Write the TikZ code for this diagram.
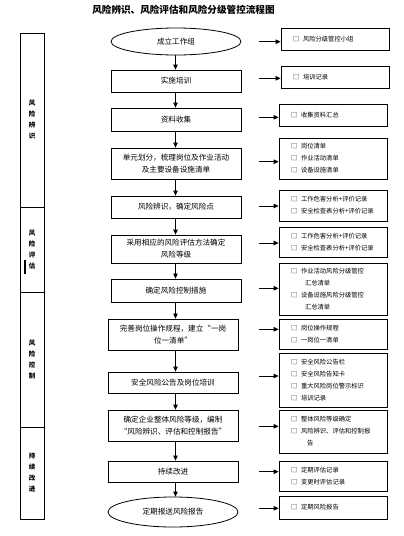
\documentclass[tikz,border=0pt]{standalone}
\usepackage{fontspec}
\setmainfont{Noto Sans CJK SC}
\usetikzlibrary{shapes.geometric,arrows.meta}
\newcommand\cbx{\makebox[10pt][l]{□}}
\begin{document}
\begin{tikzpicture}[x=1pt,y=-1pt,
  box/.style={draw,line width=0.8pt,minimum width=130pt,inner sep=0pt,align=center,font=\fontsize{7.6}{12}\selectfont},
  ell/.style={box,ellipse},
  rbox/.style={draw,line width=0.8pt,text width=84pt,inner xsep=12pt,inner ysep=0pt,align=left,font=\fontsize{6.3}{12}\selectfont},
  lbox/.style={draw,line width=0.8pt,minimum width=24pt,inner sep=0pt,align=center,font=\bfseries\fontsize{6.5}{11}\selectfont},
  arr/.style={line width=0.8pt,-{Triangle[length=5pt,width=4.5pt]}}]
\useasboundingbox (0,0) rectangle (404,536);
\node[font=\bfseries\fontsize{9.6}{11}\selectfont] (t) at (183.5,10) {风险辨识、风险评估和风险分级管控流程图};
% left column
\node[lbox,minimum height=174pt] (l1) at (32,120) {风\\险\\辨\\识};
\node[lbox,minimum height=85pt] (l2) at (32,249.5) {风\\险\\评\\估};
\node[lbox,minimum height=135pt] (l3) at (32,359.5) {风\\险\\控\\制};
\node[lbox,minimum height=92pt] (l4) at (32,473) {持\\续\\改\\进};
\fill (24,260) rectangle (26,274);
% middle column
\node[ell,minimum height=27pt] (m1) at (176,41.5) {成立工作组};
\node[box,minimum height=22pt] (m2) at (176,81) {实施培训};
\node[box,minimum height=23pt] (m3) at (176,119.5) {资料收集};
\node[box,minimum height=31pt] (m4) at (176,163.5) {单元划分，梳理岗位及作业活动\\及主要设备设施清单};
\node[box,minimum height=22pt] (m5) at (176,207) {风险辨识，确定风险点};
\node[box,minimum height=28pt] (m6) at (176,249) {采用相应的风险评估方法确定\\风险等级};
\node[box,minimum height=23pt] (m7) at (176,290.5) {确定风险控制措施};
\node[box,minimum height=31pt] (m8) at (173,334.5) {完善岗位操作规程，建立“一岗\\位一清单”};
\node[box,minimum height=21pt] (m9) at (173,382.5) {安全风险公告及岗位培训};
\node[box,minimum height=31pt] (m10) at (173,425.5) {确定企业整体风险等级，编制\\“风险辨识、评估和控制报告”};
\node[box,minimum height=21pt] (m11) at (173,471.5) {持续改进};
\node[ell,minimum height=30pt] (m12) at (173,512) {定期报送风险报告};
\coordinate (ax) at (175.5,0);
\foreach \a/\b in {m1/m2,m2/m3,m3/m4,m4/m5,m5/m6,m6/m7,m7/m8,m8/m9,m9/m10,m10/m11,m11/m12}
  \draw[arr] (ax |- \a.south) -- (ax |- \b.north);
% right column
\node[rbox,minimum height=22pt] (r1) at (335,39) {\cbx 风险分级管控小组};
\node[rbox,minimum height=22pt] (r2) at (335,77) {\cbx 培训记录};
\node[rbox,minimum height=22pt] (r3) at (333,115) {\cbx 收集资料汇总};
\node[rbox,minimum height=41pt] (r4) at (333,158.5) {\cbx 岗位清单\\\cbx 作业活动清单\\\cbx 设备设施清单};
\node[rbox,minimum height=31pt] (r5) at (333,205.5) {\cbx 工作危害分析+评价记录\\\cbx 安全检查表分析+评价记录};
\node[rbox,minimum height=30pt] (r6) at (333,242) {\cbx 工作危害分析+评价记录\\\cbx 安全检查表分析+评价记录};
\node[rbox,minimum height=52pt] (r7) at (333,289) {\cbx 作业活动风险分级管控\\\hspace*{14pt}汇总清单\\\cbx 设备设施风险分级管控\\\hspace*{14pt}汇总清单};
\node[rbox,minimum height=30pt] (r8) at (333,334) {\cbx 岗位操作规程\\\cbx 一岗位一清单};
\node[rbox,minimum height=54pt] (r9) at (333,380) {\cbx 安全风险公告栏\\\cbx 安全风险告知卡\\\cbx 重大风险岗位警示标识\\\cbx 培训记录};
\node[rbox,minimum height=43pt] (r10) at (333,431.5) {\cbx 整体风险等级确定\\\cbx 风险辨识、评估和控制报\\\hspace*{16pt}告};
\node[rbox,minimum height=30pt] (r11) at (333,476) {\cbx 定期评估记录\\\cbx 变更时评估记录};
\node[rbox,minimum height=23pt] (r12) at (333,507.5) {\cbx 定期风险报告};
\foreach \i/\y in {1/41.7,2/78.3,3/117.3,4/161.7,5/206,6/243,7/288.3,8/329.3,9/376,10/426.3,11/471.7,12/508.3}{
  \coordinate (s\i) at (259,\y);
  \draw[arr] (s\i) -- (s\i -| r\i.west);
}
\end{tikzpicture}
\end{document}
